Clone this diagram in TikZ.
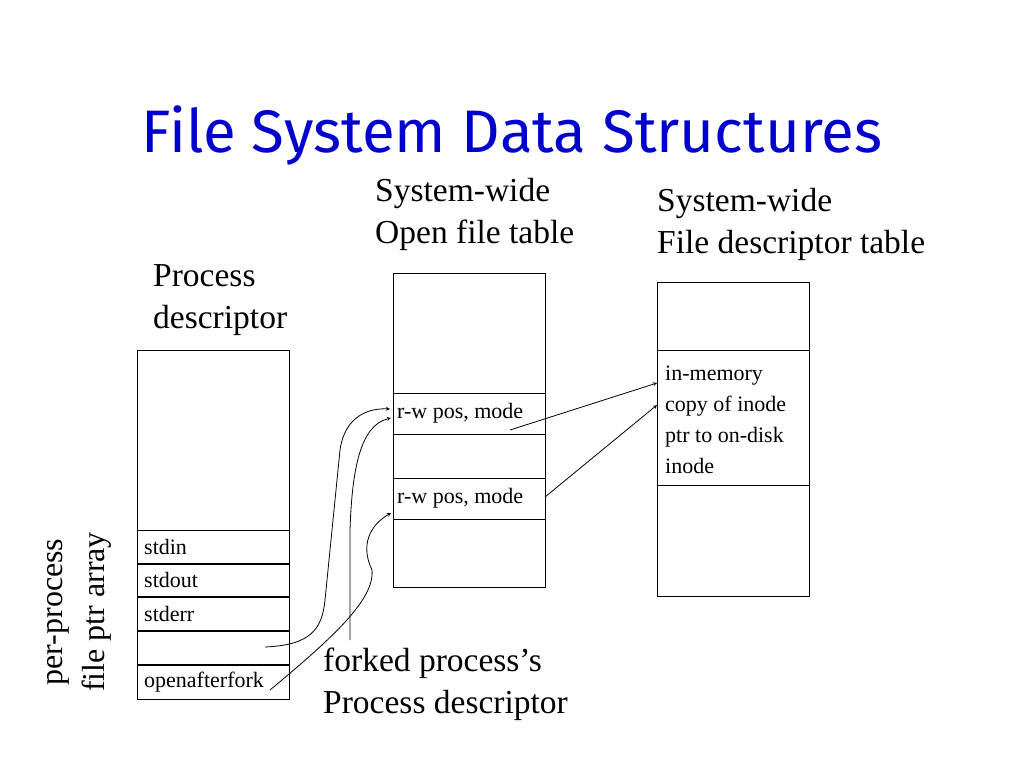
\documentclass[tikz,border=0pt]{standalone}
\usepackage{fontspec}
\setmainfont{Liberation Serif}
\newfontfamily\titlef{Fira Sans}
\begin{document}
\begin{tikzpicture}[x=1pt,y=-1pt,
  box/.style={draw,line width=1pt},
  lbl/.style={anchor=west,font=\fontsize{24.5}{26}\selectfont,inner sep=0pt},
  big/.style={font=\fontsize{33.5}{42}\selectfont,align=left,inner sep=0pt},
  arr/.style={->,>=stealth,line width=0.8pt}]
\useasboundingbox (0,0) rectangle (1024,768);
\node[font=\titlef\fontsize{60}{64}\selectfont,text=blue!80!black] (title) at (512,135) {File System Data Structures};
% left
\draw[box] (137,350) rectangle (289,699);
\foreach \n/\a/\b/\t in {s1/530/563/stdin,s2/564/596/stdout,s3/597/630/stderr,s4/631/664/{},s5/665/699/openafterfork}{
  \draw[box] (137,\a) rectangle (289,\b);
  \node[lbl,font=\fontsize{22}{24}\selectfont] (\n) at (144,{(\a+\b)/2}) {\t};}
\node[big,anchor=north west] (pd) at (153,264) {Process\\descriptor};
\node[big,rotate=90,anchor=south,align=center,font=\fontsize{32}{42}\selectfont] (pp) at (112,612) {per-process\\file ptr array};
% middle
\draw[box] (393,273) rectangle (545,587);
\draw[box] (393,393) -- (545,393) (393,434) -- (545,434) (393,478) -- (545,478) (393,519) -- (545,519);
\node[lbl,font=\fontsize{22}{24}\selectfont] (m1) at (397,413) {r-w pos, mode};
\node[lbl,font=\fontsize{22}{24}\selectfont] (m2) at (397,498) {r-w pos, mode};
\node[big,anchor=north west] (ow) at (375,178) {System-wide\\Open file table};
% right
\draw[box] (657,282) rectangle (809,596);
\draw[box] (657,350) -- (809,350) (657,485) -- (809,485);
\node[lbl,anchor=north west,align=left,font=\fontsize{22}{31}\selectfont] (ino) at (665,366) {in-memory\\copy of inode\\ptr to on-disk\\inode};
\node[big,anchor=north west] (fd) at (657,188) {System-wide\\File descriptor table};
\node[big,anchor=north west] (fk) at (323,648) {forked process's\\Process descriptor};
% connectors
\coordinate (a1) at (390,409);
\coordinate (a2) at (391,418);
\coordinate (a3) at (391,513);
\coordinate (b1) at (657,383);
\coordinate (b2) at (657,405);
\draw[arr] (265,647) .. controls (310,645) and (322,630) .. (325,600) -- (340,450) .. controls (345,415) and (370,408) .. (a1);
\draw[arr] (350,640) -- (350,530) .. controls (352,470) and (360,425) .. (a2);
\draw[arr] (270,690) .. controls (330,640) and (375,600) .. (372,570) .. controls (360,545) and (370,525) .. (a3);
\draw[arr] (510,430) -- (b1);
\draw[arr] (545,497) -- (b2);
\end{tikzpicture}
\end{document}
